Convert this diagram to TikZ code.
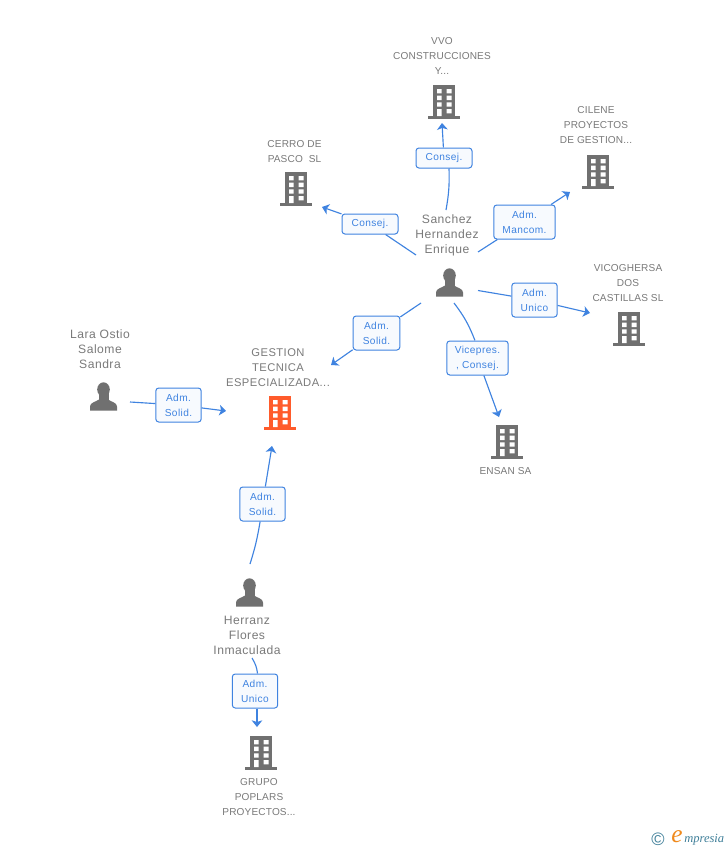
\documentclass[tikz,border=0pt]{standalone}
\usepackage{fontspec}
\setmainfont{Liberation Sans}
\newfontfamily\lblfont[LetterSpace=4]{Liberation Sans}
\newfontfamily\smallfont[LetterSpace=1.5]{Liberation Sans}
\newfontfamily\logofont{Liberation Serif}
\usetikzlibrary{arrows.meta}
\definecolor{txtgray}{HTML}{7A7A7A}
\definecolor{icongray}{HTML}{707070}
\definecolor{linkblue}{HTML}{3F83E0}
\definecolor{boxfill}{HTML}{F7FAFE}
\definecolor{orangeicon}{HTML}{FF5B2B}
\definecolor{logoteal}{HTML}{3F7F99}
\definecolor{logoorange}{HTML}{F08A1D}
\newcommand{\bigname}{\lblfont\fontsize{9.1}{11.25}\selectfont}
\newcommand{\midname}{\lblfont\fontsize{8.4}{11.25}\selectfont}
\tikzset{
  x=0.75pt,y=-0.75pt,
  namelabel/.style={inner sep=0pt,align=center,text=txtgray,font=\smallfont\fontsize{7.55}{11.25}\selectfont},
  rolebox/.style={draw=linkblue,fill=boxfill,line width=0.75pt,rounded corners=2.2pt,inner sep=0pt,
     minimum height=#1,align=center,text=linkblue,font=\lblfont\fontsize{7.6}{11.25}\selectfont,
     execute at begin node={\vspace*{1.5pt}}},
  rolebox/.default=25.5pt,
  link/.style={draw=linkblue,line width=0.85pt},
  arrowlink/.style={link,-{Stealth[length=5pt,width=8pt,inset=1.3pt]}},
  pics/building/.style={code={
    \fill[#1] (-11,0) rectangle (11,31.5);
    \fill[#1] (-16,31) rectangle (16,33.5);
    \fill[white] (-7,4) rectangle (-2.5,8.3) (2.7,4) rectangle (7.5,8.3)
      (-7,10.7) rectangle (-2.5,15) (2.7,10.7) rectangle (7.5,15)
      (-7,17.3) rectangle (-2.5,21.7) (2.7,17.3) rectangle (7.5,21.7)
      (-7,24) rectangle (-2.5,31) (2.7,24) rectangle (7.5,28.3);
  }},
  pics/person/.style={code={
    \fill[icongray] (0,-0.5) ellipse (6.3 and 7.2);
    \fill[icongray] (-5,3) rectangle (5,12);
    \fill[icongray] (-13.5,20.5) -- (-13.5,16.5) .. controls (-13.5,12.5) and (-8,12) .. (-4.5,9.5)
       -- (4.5,9.5) .. controls (8,12) and (13.5,12.5) .. (13.5,16.5) -- (13.5,20.5) -- cycle;
  }},
}
\begin{document}
\begin{tikzpicture}
\useasboundingbox[fill=white] (0,0) rectangle (728,850);

% icons
\pic at (444,85) {building=icongray};
\pic at (598,155) {building=icongray};
\pic at (296,172) {building=icongray};
\pic at (629,312) {building=icongray};
\pic at (507,425) {building=icongray};
\pic at (280,396) {building=orangeicon};
\pic at (261,736) {building=icongray};
\pic at (449.5,276) {person};
\pic at (103.5,390) {person};
\pic at (249.5,586) {person};

% names
\node[namelabel] (vvo) at (442,56) {VVO\\CONSTRUCCIONES\\Y...};
\node[namelabel] (cilene) at (596,125.5) {CILENE\\PROYECTOS\\DE GESTION...};
\node[namelabel] (cerro) at (294.5,151.5) {CERRO DE\\PASCO\ \ SL};
\node[namelabel] (vico) at (628,283.5) {VICOGHERSA\\DOS\\CASTILLAS SL};
\node[namelabel] (ensan) at (505.5,471.5) {ENSAN SA};
\node[namelabel] (gest) at (278,367.5) {\midname GESTION\\\midname TECNICA\\\midname ESPECIALIZADA...};
\node[namelabel] (grupo) at (259,797.5) {GRUPO\\POPLARS\\PROYECTOS...};
\node[namelabel] (sanchez) at (447,235.5) {\bigname Sanchez\\\bigname Hernandez\\\bigname Enrique};
\node[namelabel] (lara) at (100,349) {\bigname Lara Ostio\\\bigname Salome\\\bigname Sandra};
\node[namelabel] (herranz) at (247,635) {\bigname Herranz\\\bigname Flores\\\bigname Inmaculada};

% role boxes
\node[rolebox=15pt,minimum width=42pt] (b1) at (444,158) {Consej.};
\node[rolebox=15pt,minimum width=42pt] (b2) at (370,224) {Consej.};
\node[rolebox,minimum width=46pt] (b3) at (524.5,222) {Adm.\\Mancom.};
\node[rolebox,minimum width=34pt] (b4) at (534.5,300) {Adm.\\Unico};
\node[rolebox,minimum width=46pt] (b5) at (477.5,358) {Vicepres.\\, Consej.};
\node[rolebox,minimum width=35pt] (b6) at (376.5,333) {Adm.\\Solid.};
\node[rolebox,minimum width=34pt] (b7) at (178.5,405) {Adm.\\Solid.};
\node[rolebox,minimum width=34pt] (b8) at (262.5,504) {Adm.\\Solid.};
\node[rolebox,minimum width=34pt] (b9) at (255,691) {Adm.\\Unico};

% connector ends
\coordinate (s1) at (446,210); \coordinate (e1) at (442,123);
\coordinate (s2) at (416,255); \coordinate (e2) at (322,207);
\coordinate (s3) at (478,252); \coordinate (e3) at (570,192);
\coordinate (s4) at (478,290.5); \coordinate (e4) at (590,313);
\coordinate (s5) at (454,303); \coordinate (e5) at (499,417);
\coordinate (s6) at (421,303); \coordinate (e6) at (331,365);
\coordinate (s7) at (130,402); \coordinate (e7) at (226,411);
\coordinate (s8) at (250,564); \coordinate (e8) at (272,446);
\coordinate (s9) at (252,658); \coordinate (e9) at (257,727);

% connectors
\draw[link] (s1) to[bend right=6] ([xshift=3.75pt]b1.south);
\draw[arrowlink] (b1) -- (e1);
\draw[link] (s2) -- (b2);
\draw[arrowlink] (b2) -- (e2);
\draw[link] (s3) -- (b3);
\draw[arrowlink] (b3) -- (e3);
\draw[link] (s4) -- (b4);
\draw[arrowlink] (b4) -- (e4);
\draw[link] (s5) to[bend left=8] ([xshift=-1.9pt]b5.north);
\draw[arrowlink] (b5) -- (e5);
\draw[link] (s6) -- (b6);
\draw[arrowlink] (b6) -- (e6);
\draw[link] (s7) -- (b7);
\draw[arrowlink] (b7) -- (e7);
\draw[link] (s8) to[bend right=4] (b8);
\draw[arrowlink] (b8) -- (e8);
\draw[link] (s9) to[bend left=12] ([xshift=1.9pt]b9.north);
\draw[arrowlink] ([xshift=1.5pt]b9.south) -- (e9);

% logo
\node[inner sep=0pt,text=logoteal,font=\fontsize{13.5}{14}\selectfont] (logoc) at (658,839.5) {©};
\node[inner sep=0pt,text=logoorange,font=\logofont\itshape\fontsize{19}{20}\selectfont] (logoe) at (677,836.5) {e};
\node[inner sep=0pt,anchor=west,text=logoteal,font=\logofont\itshape\fontsize{9.4}{12}\selectfont] (logom) at (684,840) {mpresia};
\end{tikzpicture}
\end{document}
